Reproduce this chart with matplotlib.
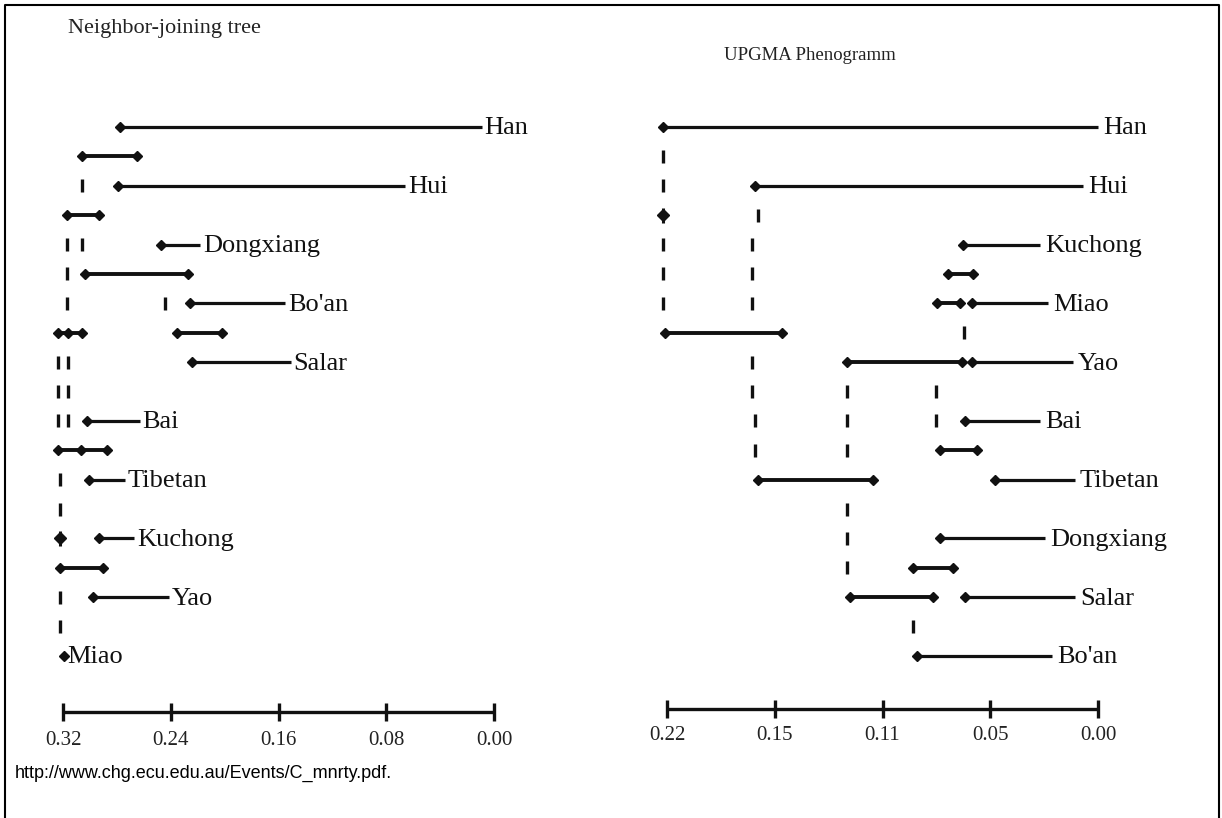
import matplotlib
matplotlib.use("Agg")
import matplotlib.pyplot as plt
from matplotlib.lines import Line2D

# ---------------- data ----------------
ROWS = [0, 2, 4, 6, 8, 10, 12, 14, 16, 18]

# Neighbor-joining tree (distance scale 0.32 -> 0.00)
NJ_TAXA = ["Han", "Hui", "Dongxiang", "Bo'an", "Salar", "Bai", "Tibetan", "Kuchong", "Yao", "Miao"]
NJ_START = [0.278, 0.279, 0.247, 0.226, 0.224, 0.302, 0.301, 0.293, 0.298, 0.319]
NJ_END = [0.009, 0.066, 0.218, 0.155, 0.151, 0.263, 0.274, 0.267, 0.241, 0.319]
NJ_NODE_ROW = [1, 3, 5, 7, 7, 11, 15]
NJ_NODE_X0 = [0.306, 0.317, 0.304, 0.324, 0.235, 0.324, 0.322]
NJ_NODE_X1 = [0.265, 0.293, 0.227, 0.306, 0.202, 0.287, 0.290]
NJ_NODE_MID = [None, None, None, 0.316, None, 0.307, None]
NJ_DOT_ROW = [14]
NJ_DOT_X = [0.322]
NJ_DASH_ROW = [2, 4, 4, 5, 6, 6, 8, 8, 9, 9, 10, 10, 12, 13, 16, 17]
NJ_DASH_X = [0.306, 0.317, 0.306, 0.317, 0.317, 0.244, 0.324, 0.316, 0.324, 0.316,
             0.324, 0.316, 0.322, 0.322, 0.322, 0.322]
NJ_TICKS = [0.32, 0.24, 0.16, 0.08, 0.00]
NJ_TICKLABELS = ["0.32", "0.24", "0.16", "0.08", "0.00"]

# UPGMA phenogram (scale drawn 0.22 -> 0.00, evenly spaced tick marks)
UP_TAXA = ["Han", "Hui", "Kuchong", "Miao", "Yao", "Bai", "Tibetan", "Dongxiang", "Salar", "Bo'an"]
UP_START = [0.222, 0.175, 0.0689, 0.0643, 0.0643, 0.0679, 0.0526, 0.0807, 0.0679, 0.0924]
UP_END = [0.000, 0.0077, 0.0296, 0.0255, 0.0128, 0.0296, 0.0117, 0.0270, 0.0117, 0.0235]
UP_NODE_ROW = [5, 6, 7, 8, 11, 12, 15, 16]
UP_NODE_X0 = [0.0766, 0.0822, 0.221, 0.1281, 0.0807, 0.1736, 0.0944, 0.1266]
UP_NODE_X1 = [0.0638, 0.0704, 0.1613, 0.0694, 0.0618, 0.1149, 0.0740, 0.0842]
UP_DOT_ROW = [3]
UP_DOT_X = [0.222]
UP_DASH_ROW = [1, 2, 3, 4, 4, 5, 5, 6, 6, 7, 8, 9, 9, 9, 10, 10, 10, 11, 11, 13, 14, 15, 17]
UP_DASH_X = [0.222, 0.222, 0.1736, 0.222, 0.1766, 0.222, 0.1766, 0.222, 0.1766, 0.0684,
             0.1766, 0.1766, 0.1281, 0.0827, 0.175, 0.1281, 0.0827, 0.175, 0.1281,
             0.1281, 0.1281, 0.1281, 0.0944]
UP_TICKS = [0.22, 0.165, 0.11, 0.055, 0.00]
UP_TICKLABELS = ["0.22", "0.15", "0.11", "0.05", "0.00"]

# ---------------- figure ----------------
W, H = 1222, 818
fig = plt.figure(figsize=(W / 100, H / 100), dpi=100)
fig.patch.set_facecolor("white")

SERIF = ["Liberation Serif", "DejaVu Serif"]
INK = "#111111"


def make_axes(px0, px1, xmax, py0=127, py1=656):
    ax = fig.add_axes([px0 / W, 1 - py1 / H, (px1 - px0) / W, (py1 - py0) / H])
    ax.set_xlim(xmax, 0.0)
    ax.set_ylim(18, 0)
    ax.axis("off")
    return ax


def draw_tree(ax, taxa, start, end, nrow, nx0, nx1, nmid, drow, dx, dashr, dashx,
              ticks, ticklabels, scale_row, label_row_off, gap):
    kw = dict(color=INK, clip_on=False, solid_capstyle="butt")
    mk = dict(marker="D", markersize=5.5, color=INK, linestyle="none", clip_on=False)
    for t, r, s, e in zip(taxa, ROWS, start, end):
        if s != e:
            ax.plot([s, e], [r, r], lw=2.3, **kw)
        ax.plot([s], [r], **mk)
        ax.text(e - gap, r + 0.05, t, family=SERIF, fontsize=19, ha="left", va="center",
                color=INK)
    for r, a, b, m in zip(nrow, nx0, nx1, nmid):
        ax.plot([a, b], [r, r], lw=2.8, **kw)
        ax.plot([a, b], [r, r], **mk)
        if m is not None:
            ax.plot([m], [r], **mk)
    for r, x in zip(drow, dx):
        ax.plot([x], [r], marker="D", markersize=6, color=INK, linestyle="none", clip_on=False)
        ax.plot([x, x], [r - 0.25, r + 0.25], lw=2.2, **kw)
    for r, x in zip(dashr, dashx):
        ax.plot([x, x], [r - 0.22, r + 0.22], lw=2.4, **kw)
    # scale bar
    ax.plot([ticks[0], ticks[-1]], [scale_row, scale_row], lw=2.4, **kw)
    for tk, lb in zip(ticks, ticklabels):
        ax.plot([tk, tk], [scale_row - 0.3, scale_row + 0.3], lw=2.4, **kw)
        ax.text(tk, scale_row + label_row_off, lb, family=SERIF, fontsize=15,
                ha="center", va="center", color="#222222")


axL = make_axes(63, 494, 0.32)
draw_tree(axL, NJ_TAXA, NJ_START, NJ_END, NJ_NODE_ROW, NJ_NODE_X0, NJ_NODE_X1, NJ_NODE_MID,
          NJ_DOT_ROW, NJ_DOT_X, NJ_DASH_ROW, NJ_DASH_X, NJ_TICKS, NJ_TICKLABELS,
          19.9, 0.97, 0.002)

axR = make_axes(667, 1098, 0.22)
draw_tree(axR, UP_TAXA, UP_START, UP_END, UP_NODE_ROW, UP_NODE_X0, UP_NODE_X1,
          [None] * len(UP_NODE_ROW), UP_DOT_ROW, UP_DOT_X, UP_DASH_ROW, UP_DASH_X,
          UP_TICKS, UP_TICKLABELS, 19.8, 0.9, 0.0025)

# titles
fig.text(68 / W, 1 - 28 / H, "Neighbor-joining tree", family=SERIF, fontsize=16,
         ha="left", va="center", color="#222222")
fig.text(724 / W, 1 - 55 / H, "UPGMA Phenogramm", family=SERIF, fontsize=13.5,
         ha="left", va="center", color="#222222")

# source note
fig.text(15 / W, 1 - 773 / H, "http://www.chg.ecu.edu.au/Events/C_mnrty.pdf.",
         family=["Liberation Sans Narrow", "Liberation Sans", "DejaVu Sans"], fontsize=13,
         ha="left", va="center", color="black")

# frame (left, top, right)
fig.add_artist(Line2D([5 / W, 5 / W, 1219 / W, 1219 / W], [0, 1 - 5 / H, 1 - 5 / H, 0],
                      transform=fig.transFigure, color="black", lw=1.5))

fig.savefig("out.png", dpi=100)
